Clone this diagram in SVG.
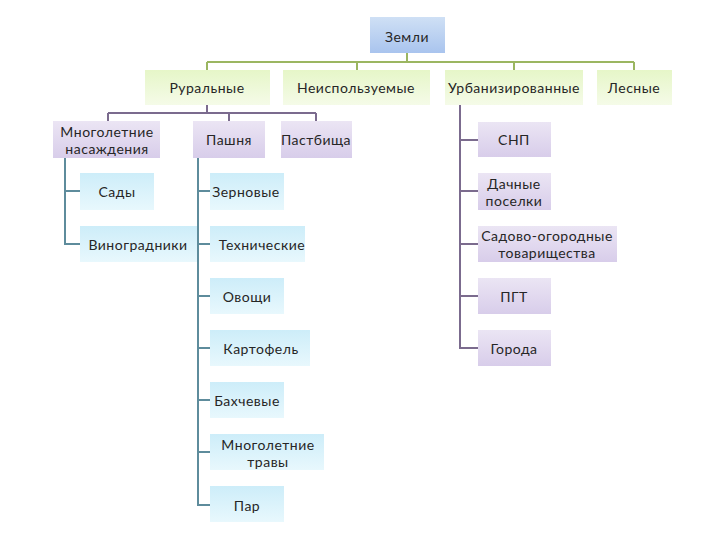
<svg xmlns="http://www.w3.org/2000/svg" width="720" height="540" viewBox="0 0 720 540">
<defs>
<linearGradient id="gBlue" x1="0" y1="0" x2="0" y2="1"><stop offset="0" stop-color="#cfe0f5"/><stop offset="1" stop-color="#a9c4ee"/></linearGradient>
<linearGradient id="gGreen" x1="0" y1="0" x2="0" y2="1"><stop offset="0" stop-color="#e6f6c8"/><stop offset="1" stop-color="#f5fbe8"/></linearGradient>
<linearGradient id="gPurple" x1="0" y1="0" x2="0" y2="1"><stop offset="0" stop-color="#ebe5f4"/><stop offset="1" stop-color="#d8cdea"/></linearGradient>
<linearGradient id="gCyan" x1="0" y1="0" x2="0" y2="1"><stop offset="0" stop-color="#cdedf9"/><stop offset="1" stop-color="#e8f8fd"/></linearGradient>
</defs>
<style>
text{font-family:Lato,"Liberation Sans",sans-serif;font-size:14px;letter-spacing:0.5px;fill:#262626;text-anchor:middle;dominant-baseline:central}
.gl{stroke:#9bb661;stroke-width:2;fill:none}
.pl{stroke:#7b6b8e;stroke-width:2;fill:none}
.tl{stroke:#5e8c9c;stroke-width:2;fill:none}
</style>
<rect width="720" height="540" fill="#ffffff"/>
<g id="connectors">
<path class="gl" d="M407 53V62M207 62H634M207 62V70M357 62V70M514 62V70M634 62V70"/>
<path class="pl" d="M207 105V113M108 113H316M108 113V121M229 113V121M316 113V121"/>
<path class="pl" d="M460 105V348H478M460 140H478M460 191H478M460 244H478M460 296H478"/>
<path class="tl" d="M65 158V244H80M65 191H80"/>
<path class="tl" d="M198 158V505H210M198 191H210M198 244H210M198 296H210M198 348H210M198 400H210M198 452H210"/>
</g>
<g id="n-zemli"><rect x="370" y="17" width="75" height="36" fill="url(#gBlue)"/><text x="407" y="36">Земли</text></g>
<g id="n-rural"><rect x="145" y="70" width="125" height="35" fill="url(#gGreen)"/><text x="207" y="87">Руральные</text></g>
<g id="n-unused"><rect x="283" y="70" width="147" height="35" fill="url(#gGreen)"/><text x="356" y="87">Неиспользуемые</text></g>
<g id="n-urban"><rect x="445" y="70" width="138" height="35" fill="url(#gGreen)"/><text x="514" y="87">Урбанизированные</text></g>
<g id="n-forest"><rect x="597" y="70" width="75" height="35" fill="url(#gGreen)"/><text x="634" y="87">Лесные</text></g>
<g id="n-mnog"><rect x="53" y="121" width="107" height="37" fill="url(#gPurple)"/><text x="107" y="131">Многолетние</text><text x="107" y="148">насаждения</text></g>
<g id="n-pashnya"><rect x="193" y="121" width="72" height="37" fill="url(#gPurple)"/><text x="229" y="139">Пашня</text></g>
<g id="n-pastb"><rect x="281" y="121" width="71" height="37" fill="url(#gPurple)"/><text x="316" y="139">Пастбища</text></g>
<g id="n-snp"><rect x="478" y="122" width="73" height="35" fill="url(#gPurple)"/><text x="514" y="139">СНП</text></g>
<g id="n-dach"><rect x="478" y="173" width="73" height="37" fill="url(#gPurple)"/><text x="514" y="183">Дачные</text><text x="514" y="200">поселки</text></g>
<g id="n-sado"><rect x="478" y="226" width="139" height="36" fill="url(#gPurple)"/><text x="547" y="235">Садово-огородные</text><text x="547" y="252">товарищества</text></g>
<g id="n-pgt"><rect x="478" y="278" width="73" height="36" fill="url(#gPurple)"/><text x="514" y="296">ПГТ</text></g>
<g id="n-goroda"><rect x="478" y="330" width="73" height="36" fill="url(#gPurple)"/><text x="514" y="348">Города</text></g>
<g id="n-sady"><rect x="80" y="173" width="74" height="37" fill="url(#gCyan)"/><text x="117" y="191">Сады</text></g>
<g id="n-vino"><rect x="80" y="226" width="117" height="36" fill="url(#gCyan)"/><text x="138" y="244">Виноградники</text></g>
<g id="n-zern"><rect x="210" y="173" width="74" height="37" fill="url(#gCyan)"/><text x="246" y="191">Зерновые</text></g>
<g id="n-tech"><rect x="210" y="226" width="95" height="36" fill="url(#gCyan)"/><text x="262" y="244">Технические</text></g>
<g id="n-ovoshi"><rect x="210" y="278" width="74" height="36" fill="url(#gCyan)"/><text x="247" y="296">Овощи</text></g>
<g id="n-kart"><rect x="210" y="330" width="100" height="36" fill="url(#gCyan)"/><text x="261" y="348">Картофель</text></g>
<g id="n-bakh"><rect x="210" y="382" width="74" height="36" fill="url(#gCyan)"/><text x="247" y="400">Бахчевые</text></g>
<g id="n-travy"><rect x="210" y="434" width="114" height="36" fill="url(#gCyan)"/><text x="268" y="444">Многолетние</text><text x="268" y="461">травы</text></g>
<g id="n-par"><rect x="210" y="486" width="74" height="36" fill="url(#gCyan)"/><text x="247" y="505">Пар</text></g>
</svg>
